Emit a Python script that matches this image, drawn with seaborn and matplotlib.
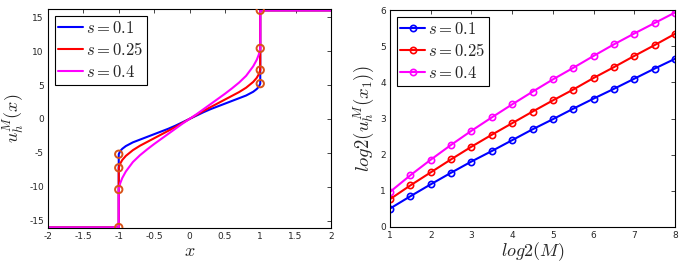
import numpy as np
import pandas as pd
import seaborn as sns
import matplotlib
matplotlib.use('Agg')
import matplotlib.pyplot as plt

# ---- left panel: u_h^M(x) for M = 16 ----
x_left = [-2.0, -1.0, -1.0, -0.98, -0.95, -0.9, -0.8, -0.7, -0.6, -0.5, -0.4, -0.3, -0.2, -0.1, 0.0,
          0.1, 0.2, 0.3, 0.4, 0.5, 0.6, 0.7, 0.8, 0.9, 0.95, 0.98, 1.0, 1.0, 2.0]
u_s01 = [-16, -16, -5.2, -4.75, -4.4, -4.0, -3.45, -3.05, -2.65, -2.25, -1.85, -1.45, -1.0, -0.5, 0.0,
         0.5, 1.0, 1.45, 1.85, 2.25, 2.65, 3.05, 3.45, 4.0, 4.4, 4.75, 5.2, 16, 16]
u_s025 = [-16, -16, -7.2, -6.6, -6.05, -5.45, -4.6, -3.95, -3.4, -2.85, -2.3, -1.75, -1.2, -0.6, 0.0,
          0.6, 1.2, 1.75, 2.3, 2.85, 3.4, 3.95, 4.6, 5.45, 6.05, 6.6, 7.2, 16, 16]
u_s04 = [-16, -16, -10.4, -9.5, -8.7, -7.75, -6.35, -5.35, -4.5, -3.7, -2.95, -2.2, -1.45, -0.7, 0.0,
         0.7, 1.45, 2.2, 2.95, 3.7, 4.5, 5.35, 6.35, 7.75, 8.7, 9.5, 10.4, 16, 16]
# circled jump points
jump_x = [-1, -1, -1, -1, 1, 1, 1, 1]
jump_u = [-16, -5.2, -7.2, -10.4, 5.2, 7.2, 10.4, 16]

# ---- right panel: log2(u_h^M(x_1)) vs log2(M) ----
log2M = [1, 1.5, 2, 2.5, 3, 3.5, 4, 4.5, 5, 5.5, 6, 6.5, 7, 7.5, 8]
log2u_s01 = [0.51, 0.85, 1.18, 1.50, 1.81, 2.10, 2.40, 2.70, 2.98, 3.27, 3.55, 3.82, 4.10, 4.38, 4.65]
log2u_s025 = [0.77, 1.15, 1.51, 1.87, 2.22, 2.55, 2.87, 3.19, 3.50, 3.80, 4.12, 4.42, 4.73, 5.03, 5.34]
log2u_s04 = [0.97, 1.43, 1.86, 2.27, 2.66, 3.03, 3.39, 3.74, 4.08, 4.40, 4.73, 5.05, 5.35, 5.64, 5.93]

labels = ['$s = 0.1$', '$s = 0.25$', '$s = 0.4$']
colors = ['#0000FF', '#FF0000', '#FF00FF']

sns.set_style('white')
plt.rcParams['mathtext.fontset'] = 'cm'
plt.rcParams['font.family'] = ['DejaVu Sans']
plt.rcParams['xtick.direction'] = 'in'
plt.rcParams['ytick.direction'] = 'in'

fig = plt.figure(figsize=(6.88, 2.64), dpi=100)
ax1 = fig.add_axes([48 / 688, 1 - 227.5 / 264, 283 / 688, 218.5 / 264])
ax2 = fig.add_axes([390 / 688, 1 - 227 / 264, 285 / 688, 217 / 264])

# left
for u, lab, c in zip([u_s01, u_s025, u_s04], labels, colors):
    sns.lineplot(x=x_left, y=u, ax=ax1, color=c, linewidth=1.5, label=lab,
                 sort=False, estimator=None)
sns.scatterplot(x=jump_x, y=jump_u, ax=ax1, marker='o', facecolor='none',
                edgecolor='#D95319', linewidth=1.4, s=28, zorder=5, legend=False)
ax1.set_xlim(-2, 2)
ax1.set_ylim(-16, 16.2)
ax1.set_xticks(np.arange(-2, 2.01, 0.5))
ax1.set_xticklabels(['-2', '-1.5', '-1', '-0.5', '0', '0.5', '1', '1.5', '2'])
ax1.set_yticks([-15, -10, -5, 0, 5, 10, 15])
ax1.set_yticklabels(['-15', '-10', '-5', '0', '5', '10', '15'])
ax1.set_xlabel('$x$', fontsize=13, labelpad=1)
ax1.set_ylabel('$u_h^M(x)$', fontsize=13)
ax1.yaxis.set_label_coords(-0.075, 0.5)

# right
for v, lab, c in zip([log2u_s01, log2u_s025, log2u_s04], labels, colors):
    sns.lineplot(x=log2M, y=v, ax=ax2, color=c, linewidth=1.5, label=lab,
                 marker='o', markersize=4.5, markerfacecolor='none',
                 markeredgecolor=c, markeredgewidth=1.2, sort=False, estimator=None)
ax2.set_xlim(1, 8)
ax2.set_ylim(0, 6)
ax2.set_xticks(range(1, 9))
ax2.set_yticks(range(0, 7))
ax2.set_xlabel('$log2(M)$', fontsize=13, labelpad=0)
ax2.set_ylabel('$log2(u_h^M(x_1))$', fontsize=13.5)
ax2.yaxis.set_label_coords(-0.05, 0.5)

for ax in (ax1, ax2):
    for sp in ax.spines.values():
        sp.set_visible(True)
        sp.set_color('black')
        sp.set_linewidth(0.8)
    ax.tick_params(axis='both', which='both', direction='in', length=3, width=0.6,
                   top=True, right=True, labelsize=6.5, labelcolor='#262626', pad=3)
    leg = ax.legend(loc='upper left', fontsize=12, frameon=True, fancybox=False,
                    edgecolor='black', framealpha=1, borderaxespad=0.4,
                    handlelength=1.5, handletextpad=0.2, labelspacing=0.25,
                    borderpad=0.2)
    leg.get_frame().set_linewidth(0.8)

fig.savefig('out.png', dpi=100)
